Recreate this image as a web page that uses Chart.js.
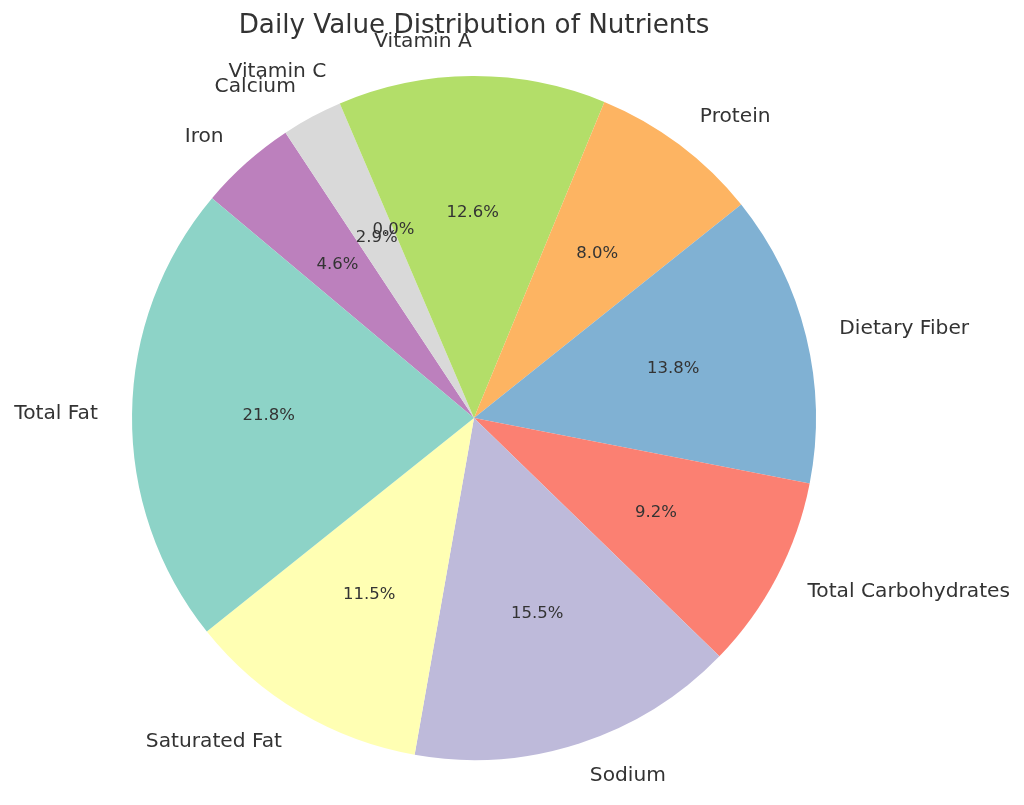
<!DOCTYPE html>
<html>
<head>
<meta charset="utf-8">
<title>Daily Value Distribution of Nutrients</title>
<script src="https://cdn.jsdelivr.net/npm/chart.js@4.4.1/dist/chart.umd.min.js"></script>
<style>
  html, body { margin: 0; padding: 0; background: #ffffff; }
  #wrap { width: 1024px; height: 805px; position: relative; }
</style>
</head>
<body>
<div id="wrap"><canvas id="graficoNutrientes"></canvas></div>
<script>
// matplotlib draws counter-clockwise, Chart.js clockwise, so the lists run in reverse
const nutrientes = ['Iron', 'Calcium', 'Vitamin C', 'Vitamin A', 'Protein', 'Dietary Fiber',
                    'Total Carbohydrates', 'Sodium', 'Saturated Fat', 'Total Fat'];
const valoresDiarios = [8, 5, 0, 22, 14, 24, 16, 27, 20, 38];
const colores = ['#bc80bd', '#d9d9d9', '#fccde5', '#b3de69', '#fdb462', '#80b1d3',
                 '#fb8072', '#bebada', '#ffffb3', '#8dd3c7'];

const colorTexto = '#333333';
const fuente = '"DejaVu Sans", sans-serif';

// labels outside at 1.1 r, percentages inside at 0.6 r (like autopct)
const etiquetasPie = {
    id: 'etiquetasPie',
    afterDraw(chart) {
        const ctx = chart.ctx;
        const arcos = chart.getDatasetMeta(0).data;
        const datos = chart.data.datasets[0].data;
        const total = datos.reduce((a, b) => a + b, 0);
        ctx.save();
        ctx.fillStyle = colorTexto;
        ctx.textBaseline = 'middle';
        arcos.forEach((arco, i) => {
            const p = arco.getProps(['x', 'y', 'startAngle', 'endAngle', 'outerRadius'], true);
            const medio = (p.startAngle + p.endAngle) / 2;
            const cx = Math.cos(medio), cy = Math.sin(medio);

            ctx.font = '20.2px ' + fuente;
            const lx = p.x + cx * p.outerRadius * 1.1;
            const ly = p.y + cy * p.outerRadius * 1.1;
            ctx.textAlign = cx < 0 ? 'right' : 'left';
            ctx.fillText(chart.data.labels[i], lx, ly);

            ctx.font = '16.5px ' + fuente;
            ctx.textAlign = 'center';
            const pct = (datos[i] / total * 100).toFixed(1) + '%';
            ctx.fillText(pct, p.x + cx * p.outerRadius * 0.6, p.y + cy * p.outerRadius * 0.6);
        });
        ctx.restore();
    }
};

const contexto = document.getElementById('graficoNutrientes').getContext('2d');
new Chart(contexto, {
    type: 'pie',
    data: {
        labels: nutrientes,
        datasets: [{
            data: valoresDiarios,
            backgroundColor: colores,
            borderWidth: 0,
            hoverOffset: 0
        }]
    },
    options: {
        responsive: true,
        maintainAspectRatio: false,
        animation: false,
        rotation: -50,
        layout: { padding: { left: 132, right: 208, top: 0, bottom: 45 } },
        plugins: {
            legend: { display: false },
            tooltip: { enabled: false },
            title: {
                display: true,
                text: 'Daily Value Distribution of Nutrients',
                color: colorTexto,
                font: { family: fuente, size: 26.2, weight: 'normal', lineHeight: 1.2 },
                padding: { top: 10, bottom: 34.6 }
            }
        },
        events: []
    },
    plugins: [etiquetasPie]
});
</script>
</body>
</html>
